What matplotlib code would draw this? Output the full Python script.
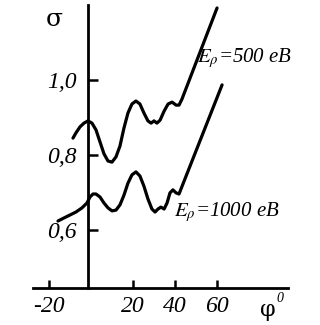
import matplotlib
matplotlib.use("Agg")
import matplotlib.pyplot as plt
from matplotlib.ticker import FixedLocator, FixedFormatter

# ---- data ----
phi_500 = [-8.57, -7.14, -5.24, -3.33, -1.43, 0.48, 2.38, 4.29, 6.19, 8.10, 10.0,
           11.9, 13.8, 15.7, 17.6, 19.5, 21.4, 23.3, 25.2, 27.1, 28.6, 30.0, 31.4,
           32.9, 34.8, 36.7, 38.6, 40.5, 41.9, 43.3, 60.0]
sigma_500 = [0.845, 0.859, 0.875, 0.885, 0.891, 0.885, 0.867, 0.835, 0.803, 0.784,
             0.781, 0.795, 0.824, 0.872, 0.912, 0.936, 0.944, 0.936, 0.912, 0.891,
             0.885, 0.891, 0.885, 0.893, 0.917, 0.936, 0.941, 0.933, 0.933, 0.949,
             1.192]
phi_1000 = [-15.7, -12.9, -10.0, -7.14, -4.29, -1.90, -0.48, 0.95, 2.38, 4.29, 6.19,
            8.10, 10.0, 11.9, 13.8, 15.7, 17.6, 19.5, 21.4, 23.3, 25.2, 27.1, 29.0,
            30.5, 31.9, 33.3, 34.8, 36.2, 37.6, 39.0, 40.5, 41.9, 43.8, 62.4]
sigma_1000 = [0.624, 0.632, 0.640, 0.648, 0.659, 0.672, 0.688, 0.696, 0.696, 0.688,
              0.672, 0.659, 0.651, 0.653, 0.667, 0.693, 0.725, 0.747, 0.755, 0.744,
              0.717, 0.683, 0.656, 0.648, 0.656, 0.661, 0.656, 0.672, 0.699, 0.707,
              0.699, 0.696, 0.723, 0.987]
x_ticks = [-20, 20, 40, 60]
x_tick_labels = ["-20", "20", "40", "60"]
y_ticks = [0.6, 0.8, 1.0]
y_tick_labels = ["0,6", "0,8", "1,0"]
label_500 = r"$E_{\rho}$=500 eB"
label_1000 = r"$E_{\rho}$=1000 eB"

plt.rcParams["mathtext.fontset"] = "stix"
serif_it = dict(family="Liberation Serif", style="italic")

fig = plt.figure(figsize=(3.2, 3.25), dpi=100)
ax = fig.add_axes([0, 0, 1, 1])
ax.set_facecolor("white")
ax.set_xlim(-43.3, 109.0)
ax.set_ylim(0.3467, 1.2133)

for xs, ys in ((phi_500, sigma_500), (phi_1000, sigma_1000)):
    ax.plot(xs, ys, color="black", lw=2.3, solid_capstyle="round",
            solid_joinstyle="round")

for s in ["top", "right"]:
    ax.spines[s].set_visible(False)
ax.spines["left"].set_position(("data", -1.5))
ax.spines["left"].set_bounds(0.445, 1.2)
ax.spines["bottom"].set_position(("data", 0.445))
ax.spines["bottom"].set_bounds(-27.6, 93.8)
for s in ["left", "bottom"]:
    ax.spines[s].set_linewidth(2.0)

ax.xaxis.set_major_locator(FixedLocator(x_ticks))
ax.xaxis.set_major_formatter(FixedFormatter(x_tick_labels))
ax.yaxis.set_major_locator(FixedLocator(y_ticks))
ax.yaxis.set_major_formatter(FixedFormatter(y_tick_labels))
ax.tick_params(axis="x", direction="in", length=6, width=1.8, pad=6, labelsize=17)
ax.tick_params(axis="y", direction="in", length=7, width=1.8, pad=8, labelsize=17)
for lab in ax.get_xticklabels() + ax.get_yticklabels():
    lab.set_fontfamily("Liberation Serif")
    lab.set_fontstyle("italic")

fig.text(54 / 320, 1 - 20 / 325, "σ", ha="center", va="center", fontsize=18,
         family="DejaVu Serif")
fig.text(197 / 320, 1 - 58 / 325, label_500, ha="left", va="center", fontsize=15,
         **serif_it)
fig.text(174 / 320, 1 - 212 / 325, label_1000, ha="left", va="center", fontsize=15,
         **serif_it)
fig.text(268 / 320, 1 - 310 / 325, "φ", ha="center", va="center", fontsize=16,
         family="DejaVu Serif")
fig.text(280 / 320, 1 - 299 / 325, "0", ha="center", va="center", fontsize=10,
         **serif_it)

fig.savefig("out.png", dpi=100, facecolor="white")
